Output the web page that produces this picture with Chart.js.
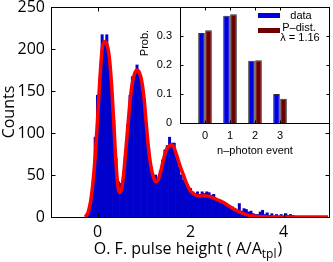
<!DOCTYPE html>
<html>
<head>
<meta charset="utf-8">
<script src="https://cdn.jsdelivr.net/npm/chart.js@4.4.0/dist/chart.umd.min.js"></script>
<style>
html, body { margin: 0; padding: 0; background: #fff; }
#wrap { position: relative; width: 333px; height: 262px; }
#main { position: absolute; left: 0; top: 0; }
#inset { position: absolute; left: 130px; top: 0; }
</style>
</head>
<body>
<div id="wrap">
<canvas id="main" width="333" height="262"></canvas>
<canvas id="inset" width="203" height="162"></canvas>
</div>
<script>
// histogram of the optimal-filter pulse heights
const histStart = -0.25;
const histStep = 0.05;
const histCounts = [0, 3, 18, 40, 95, 145, 165, 217, 210, 217, 190, 160, 115, 70, 42, 40, 44, 72, 110, 145,
  167, 170, 181, 172, 160, 140, 112, 82, 60, 48, 50, 46, 55, 68, 80, 85, 95, 88, 88, 74,
  60, 50, 44, 40, 36, 34, 30, 28, 30, 27, 30, 28, 30, 29, 26, 27, 22, 20, 19, 18,
  15, 15, 13, 12, 10, 8, 16, 7, 10, 9, 6, 7, 4, 3, 3, 6, 8, 3, 5, 2,
  4, 1, 3, 1, 3, 1, 4, 2, 3, 2, 0];

// fitted curve (red)
const fitX = [-0.26, -0.2, -0.15, -0.1, -0.05, 0, 0.05, 0.1, 0.15, 0.2, 0.25, 0.3, 0.35, 0.4, 0.44, 0.48, 0.52, 0.56, 0.6, 0.65,
  0.7, 0.75, 0.8, 0.85, 0.9, 0.95, 1.0, 1.05, 1.1, 1.15, 1.2, 1.25, 1.3, 1.35, 1.4, 1.45, 1.5, 1.55, 1.6, 1.65,
  1.7, 1.75, 1.8, 1.85, 1.9, 1.95, 2.0, 2.1, 2.2, 2.3, 2.4, 2.5, 2.6, 2.7, 2.8, 2.9, 3.0, 3.1, 3.2, 3.3,
  3.4, 3.6, 3.8, 4.0, 4.5, 4.96];
const fitY = [0, 6, 18, 40, 72, 115, 163, 200, 209, 206, 192, 160, 112, 62, 36, 29, 34, 50, 74, 106,
  138, 160, 171, 175, 172, 162, 142, 110, 80, 60, 48, 42, 44, 52, 64, 75, 82, 85, 86, 82,
  74, 65, 57, 50, 42, 36, 31, 26.5, 25, 25.3, 24.8, 22.5, 20, 17.5, 14, 10.5, 7.5, 4.8, 2.8, 1.4,
  0.8, 0.2, 0, 0, 0, 0];

const xTicks = [0, 2, 4];
const yTicks = [0, 50, 100, 150, 200, 250];

// inset: photon-number probabilities
const nPhoton = [0, 1, 2, 3];
const probData = [0.31, 0.37, 0.215, 0.10];
const probPoisson = [0.32, 0.375, 0.216, 0.084];
const insetXTicks = [0, 1, 2, 3];
const insetYTicks = [0, 0.1, 0.2, 0.3];

const mainFont = 'Open Sans';
const insetFont = 'Liberation Sans';

const framePlugin = {
  id: 'frame',
  beforeDraw(chart, args, opts) {
    if (!opts.fill) return;
    const a = chart.chartArea, ctx = chart.ctx;
    ctx.save();
    ctx.fillStyle = opts.fill;
    ctx.fillRect(a.left, a.top, a.right - a.left, a.bottom - a.top);
    ctx.restore();
  },
  afterDraw(chart, args, opts) {
    const ctx = chart.ctx, a = chart.chartArea;
    const x = chart.scales.x, y = chart.scales.y;
    const L = opts.len || 4;
    ctx.save();
    ctx.strokeStyle = '#000';
    ctx.lineWidth = 1;
    const l = Math.round(a.left) + 0.5, r = Math.round(a.right) - 0.5;
    const t = Math.round(a.top) + 0.5, b = Math.round(a.bottom) + 0.5;
    ctx.strokeRect(l, t, r - l, b - t);
    ctx.beginPath();
    x.ticks.forEach(tk => {
      const px = Math.round(x.getPixelForValue(tk.value)) + 0.5;
      ctx.moveTo(px, b); ctx.lineTo(px, b - L);
      ctx.moveTo(px, t); ctx.lineTo(px, t + L);
    });
    y.ticks.forEach(tk => {
      const py = Math.round(y.getPixelForValue(tk.value)) + 0.5;
      ctx.moveTo(l, py); ctx.lineTo(l + L, py);
      ctx.moveTo(r, py); ctx.lineTo(r - L, py);
    });
    ctx.stroke();
    ctx.restore();
  }
};

const mainText = {
  id: 'mainText',
  afterDraw(chart) {
    const ctx = chart.ctx;
    ctx.save();
    ctx.fillStyle = '#000';
    ctx.textBaseline = 'alphabetic';
    const big = '16px "' + mainFont + '"', small = '12px "' + mainFont + '"';
    const s1 = 'O. F. pulse height ( A/A', s2 = 'tpl', s3 = ')';
    ctx.font = big; const w1 = ctx.measureText(s1).width, w3 = ctx.measureText(s3).width;
    ctx.font = small; const w2 = ctx.measureText(s2).width;
    let x0 = 188 - (w1 + w2 + w3 + 1) / 2;
    const base = 254;
    ctx.font = big; ctx.fillText(s1, x0, base);
    ctx.font = small; ctx.fillText(s2, x0 + w1, base + 4);
    ctx.font = big; ctx.fillText(s3, x0 + w1 + w2 + 1, base);
    ctx.restore();
  }
};

const histData = histCounts.map((c, i) => ({ x: histStart + i * histStep, y: c }));
const fitData = fitX.map((v, i) => ({ x: v, y: fitY[i] }));

new Chart(document.getElementById('main'), {
  type: 'bar',
  data: {
    datasets: [
      {
        type: 'line',
        data: fitData,
        borderColor: '#ff0000',
        borderWidth: 3.5,
        pointRadius: 0,
        cubicInterpolationMode: 'monotone',
        order: 0
      },
      {
        type: 'bar',
        data: histData,
        backgroundColor: 'rgb(0,0,205)',
        borderWidth: 0,
        barPercentage: 1,
        categoryPercentage: 1,
        order: 1
      }
    ]
  },
  options: {
    responsive: false,
    animation: false,
    layout: { padding: { top: 7, right: 3, left: 0, bottom: 0 } },
    plugins: { legend: { display: false }, tooltip: { enabled: false }, frame: { len: 4 } },
    scales: {
      x: {
        type: 'linear', min: -1, max: 5, offset: false,
        grid: { display: false, drawTicks: false },
        border: { display: false },
        afterBuildTicks: s => { s.ticks = xTicks.map(v => ({ value: v })); },
        afterFit: s => { s.height = 45; s.paddingLeft = 0; s.paddingRight = 0; },
        ticks: { color: '#000', padding: 6, font: { family: mainFont, size: 16 }, maxRotation: 0 }
      },
      y: {
        min: 0, max: 250,
        grid: { display: false, drawTicks: false },
        border: { display: false },
        afterBuildTicks: s => { s.ticks = yTicks.map(v => ({ value: v })); },
        afterFit: s => { s.width = 51; s.paddingTop = 0; s.paddingBottom = 0; },
        ticks: { color: '#000', padding: 6, font: { family: mainFont, size: 16 } },
        title: { display: true, text: 'Counts', color: '#000', padding: 0, font: { family: mainFont, size: 16 } }
      }
    }
  },
  plugins: [framePlugin, mainText]
});

const insetText = {
  id: 'insetText',
  afterDraw(chart) {
    const ctx = chart.ctx;
    ctx.save();
    ctx.fillStyle = '#000';
    ctx.font = '11px "' + insetFont + '"';
    ctx.textAlign = 'center';
    ctx.textBaseline = 'middle';
    // axis titles
    ctx.fillText('n\u2013photon event', 125, 151);
    ctx.save();
    ctx.translate(15, 43);
    ctx.rotate(-Math.PI / 2);
    ctx.fillText('Prob.', 0, 0);
    ctx.restore();
    // legend
    ctx.fillStyle = '#0000e0';
    ctx.fillRect(128, 13, 22, 5);
    ctx.fillStyle = '#6e0000';
    ctx.fillRect(128, 28, 22, 5);
    ctx.fillStyle = '#000';
    ctx.fillText('data', 171, 16);
    ctx.fillText('P\u2013dist.', 169, 28);
    ctx.fillText('\u03bb = 1.16', 170, 38);
    ctx.restore();
  }
};

new Chart(document.getElementById('inset'), {
  type: 'bar',
  data: {
    datasets: [
      {
        data: nPhoton.map((n, i) => ({ x: n, y: probData[i] })),
        backgroundColor: '#0000e0',
        borderColor: '#333',
        borderWidth: 1,
        categoryPercentage: 0.56,
        barPercentage: 0.95
      },
      {
        data: nPhoton.map((n, i) => ({ x: n, y: probPoisson[i] })),
        backgroundColor: '#6e0000',
        borderColor: '#333',
        borderWidth: 1,
        categoryPercentage: 0.56,
        barPercentage: 0.95
      }
    ]
  },
  options: {
    responsive: false,
    animation: false,
    layout: { padding: { top: 7, right: 3, left: 0, bottom: 0 } },
    plugins: { legend: { display: false }, tooltip: { enabled: false }, frame: { len: 3, fill: '#fff' } },
    scales: {
      x: {
        type: 'linear', min: -1, max: 5, offset: false,
        grid: { display: false, drawTicks: false },
        border: { display: false },
        afterBuildTicks: s => { s.ticks = insetXTicks.map(v => ({ value: v })); },
        afterFit: s => { s.height = 39; s.paddingLeft = 0; s.paddingRight = 0; },
        ticks: { color: '#000', padding: 6, font: { family: insetFont, size: 11 }, maxRotation: 0 }
      },
      y: {
        min: 0, max: 0.4,
        grid: { display: false, drawTicks: false },
        border: { display: false },
        afterBuildTicks: s => { s.ticks = insetYTicks.map(v => ({ value: v })); },
        afterFit: s => { s.width = 50; s.paddingTop = 0; s.paddingBottom = 0; },
        ticks: { color: '#000', padding: 8, font: { family: insetFont, size: 11 } }
      }
    }
  },
  plugins: [framePlugin, insetText]
});
</script>
</body>
</html>
